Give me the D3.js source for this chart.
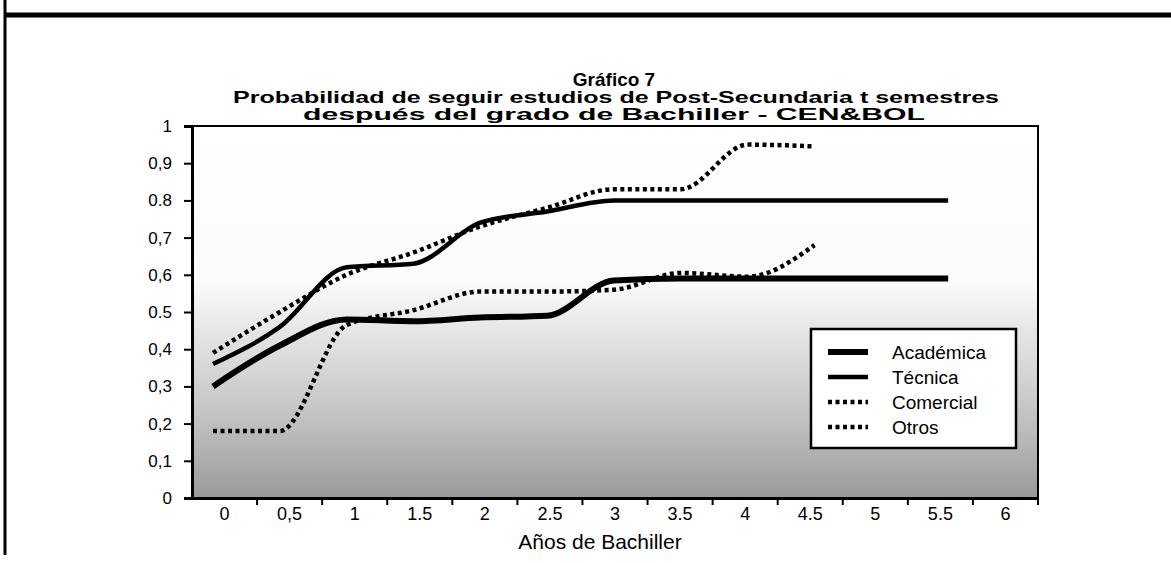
<!DOCTYPE html>
<html>
<head>
<meta charset="utf-8">
<script src="https://cdn.jsdelivr.net/npm/d3@7"></script>
<style>
  body { margin: 0; background: #fff; }
  text { font-family: "Liberation Sans", Arial, sans-serif; fill: #000; }
</style>
</head>
<body>
<div id="chart"></div>
<script>
// datos
const categorias = ["0", "0,5", "1", "1.5", "2", "2.5", "3", "3.5", "4", "4.5", "5", "5.5", "6"];
const yTicks = [0, 0.1, 0.2, 0.3, 0.4, 0.5, 0.6, 0.7, 0.8, 0.9, 1];
const yTickLabels = ["0", "0,1", "0,2", "0,3", "0,4", "0.5", "0,6", "0,7", "0.8", "0,9", "1"];

const tecnica    = [0.36, 0.46, 0.62, 0.63, 0.74, 0.77, 0.80, 0.80, 0.80, 0.80, 0.80, 0.80];
const academica  = [0.30, 0.41, 0.48, 0.475, 0.485, 0.49, 0.585, 0.59, 0.59, 0.59, 0.59, 0.59];
const comercial  = [0.39, 0.50, 0.60, 0.66, 0.73, 0.78, 0.83, 0.83, 0.95, 0.945];
const otros      = [0.18, 0.18, 0.465, 0.505, 0.555, 0.555, 0.56, 0.605, 0.595, 0.68];

const series = [
    { name: "Académica", values: academica, width: 6, dash: null },
    { name: "Técnica", values: tecnica, width: 4.5, dash: null },
    { name: "Comercial", values: comercial, width: 4.5, dash: "4,3.5" },
    { name: "Otros", values: otros, width: 4.5, dash: "4,3.5" }
];

const W = 1171, H = 563;
const plot = { left: 192, right: 1038, top: 126, bottom: 498 };

const svg = d3.select("#chart").append("svg")
    .attr("width", W)
    .attr("height", H);

// marco de la página escaneada
svg.append("line").attr("x1", 4).attr("x2", W).attr("y1", 15).attr("y2", 15)
    .attr("stroke", "#000").attr("stroke-width", 5);
svg.append("line").attr("x1", 5).attr("x2", 5).attr("y1", 0).attr("y2", 555)
    .attr("stroke", "#000").attr("stroke-width", 3);

// escalas
const xBand = d3.scaleBand().domain(categorias).range([plot.left, plot.right]);
const x = d3.scalePoint().domain(categorias).range([213, 1015]);
const y = d3.scaleLinear().domain([0, 1]).range([plot.bottom, plot.top]);

// sombreado del escaneo
const defs = svg.append("defs");
const grad = defs.append("linearGradient").attr("id", "ruido")
    .attr("x1", 0).attr("y1", 0).attr("x2", 0).attr("y2", 1);
grad.append("stop").attr("offset", "0%").attr("stop-color", "#777").attr("stop-opacity", 0);
grad.append("stop").attr("offset", "42%").attr("stop-color", "#777").attr("stop-opacity", 0.03);
grad.append("stop").attr("offset", "58%").attr("stop-color", "#777").attr("stop-opacity", 0.22);
grad.append("stop").attr("offset", "80%").attr("stop-color", "#666").attr("stop-opacity", 0.42);
grad.append("stop").attr("offset", "100%").attr("stop-color", "#555").attr("stop-opacity", 0.6);

svg.append("rect")
    .attr("x", plot.left).attr("y", plot.top)
    .attr("width", plot.right - plot.left).attr("height", plot.bottom - plot.top)
    .attr("fill", "url(#ruido)")
    .attr("stroke", "#000").attr("stroke-width", 2);

// eje Y
const yAxis = svg.append("g")
    .attr("transform", `translate(${plot.left},0)`)
    .call(d3.axisLeft(y).tickValues(yTicks).tickSize(8).tickPadding(12)
        .tickFormat((d, i) => yTickLabels[i]));
yAxis.select(".domain").attr("stroke-width", 3);
yAxis.selectAll(".tick line").attr("stroke-width", 2);
yAxis.selectAll("text").style("font-size", "17px").style("font-family", "Liberation Sans, Arial, sans-serif");

// eje X
const xAxis = svg.append("g")
    .attr("transform", `translate(0,${plot.bottom})`)
    .call(d3.axisBottom(xBand).tickSize(0).tickPadding(9));
xAxis.select(".domain").attr("stroke-width", 3);
xAxis.selectAll("text").style("font-size", "18px").style("font-family", "Liberation Sans, Arial, sans-serif");
// marcas entre categorías
xAxis.selectAll(".sep")
    .data(categorias)
    .join("line")
    .attr("class", "sep")
    .attr("x1", d => xBand(d) + xBand.bandwidth())
    .attr("x2", d => xBand(d) + xBand.bandwidth())
    .attr("y1", 0).attr("y2", 7)
    .attr("stroke", "#000").attr("stroke-width", 2);

svg.append("text")
    .attr("x", 600).attr("y", 549)
    .attr("text-anchor", "middle")
    .style("font-size", "21px")
    .text("Años de Bachiller");

// líneas
const line = d3.line()
    .x((d, i) => x(categorias[i]))
    .y(d => y(d))
    .curve(d3.curveMonotoneX);

svg.selectAll(".serie")
    .data(series)
    .join("path")
    .attr("class", "serie")
    .attr("fill", "none")
    .attr("stroke", "#000")
    .attr("stroke-width", d => d.width)
    .attr("stroke-dasharray", d => d.dash)
    .attr("d", d => line(d.values));

// leyenda
const legend = svg.append("g").attr("transform", "translate(811,329)");
legend.append("rect")
    .attr("width", 205).attr("height", 119)
    .attr("fill", "#fff").attr("stroke", "#000").attr("stroke-width", 2.5);
const items = legend.selectAll(".item")
    .data(series)
    .join("g")
    .attr("class", "item")
    .attr("transform", (d, i) => `translate(0,${23 + i * 25})`);
items.append("line")
    .attr("x1", 17).attr("x2", 57)
    .attr("stroke", "#000")
    .attr("stroke-width", d => d.width)
    .attr("stroke-dasharray", d => d.dash);
items.append("text")
    .attr("x", 81).attr("dy", "0.35em")
    .style("font-size", "19px")
    .text(d => d.name);

// título
const title = svg.append("g").attr("text-anchor", "middle").style("font-weight", "bold");
title.append("text").attr("x", 614).attr("y", 86).style("font-size", "19px").text("Gráfico 7");
title.append("text").attr("x", 616).attr("y", 103).style("font-size", "17px")
    .attr("textLength", 766).attr("lengthAdjust", "spacingAndGlyphs")
    .text("Probabilidad de seguir estudios de Post-Secundaria t semestres");
title.append("text").attr("x", 614).attr("y", 120).style("font-size", "17px")
    .attr("textLength", 622).attr("lengthAdjust", "spacingAndGlyphs")
    .text("después del grado de Bachiller - CEN&BOL");
</script>
</body>
</html>
